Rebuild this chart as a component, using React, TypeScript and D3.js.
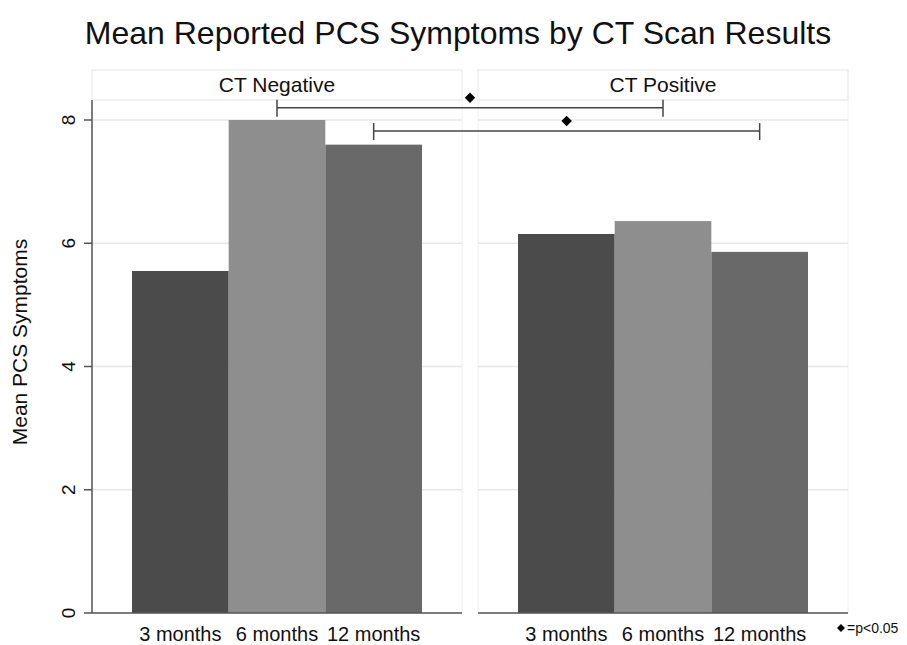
import React, { useEffect, useRef } from "react";
import * as d3 from "d3";

// chart values
const groups = ["CT Negative", "CT Positive"];
const months = ["3 months", "6 months", "12 months"];
const ctNegative = [5.55, 8.0, 7.6];
const ctPositive = [6.15, 6.36, 5.86];
const yTicks = [0, 2, 4, 6, 8];
const barColors = ["#4b4b4b", "#8e8e8e", "#696969"];
// significance brackets: month in CT Negative -> month in CT Positive, at a y level
const brackets = [
  { from: "6 months", to: "6 months", level: 8.2 },
  { from: "12 months", to: "12 months", level: 7.82 },
];

const W = 907;
const H = 645;

export default function App() {
  const ref = useRef<SVGSVGElement>(null);

  useEffect(() => {
    const svg = d3.select(ref.current);
    svg.selectAll("*").remove();

    const font = "'Liberation Sans', Arial, Helvetica, sans-serif";
    const plotTop = 100;
    const plotBottom = 613;
    const stripTop = 70;

    const y = d3.scaleLinear().domain([0, 8]).range([plotBottom, 120]);
    const panel = d3.scaleBand().domain(groups).range([92, 848]).paddingInner(16 / 386);
    const x = d3
      .scaleBand()
      .domain(months)
      .range([0, panel.bandwidth()])
      .paddingInner(0)
      .paddingOuter(0.414);

    const values: Record<string, number[]> = {
      "CT Negative": ctNegative,
      "CT Positive": ctPositive,
    };

    svg.append("rect").attr("width", W).attr("height", H).attr("fill", "#fff");

    // title
    svg
      .append("text")
      .attr("x", 458)
      .attr("y", 44)
      .attr("text-anchor", "middle")
      .style("font-family", font)
      .style("font-size", "32px")
      .attr("fill", "#111")
      .text("Mean Reported PCS Symptoms by CT Scan Results");

    groups.forEach((g) => {
      const x0 = panel(g)!;
      const pw = panel.bandwidth();
      const gEl = svg.append("g").attr("transform", `translate(${x0},0)`);

      // strip
      gEl
        .append("rect")
        .attr("x", 0)
        .attr("y", stripTop)
        .attr("width", pw)
        .attr("height", plotTop - stripTop)
        .attr("fill", "#fff")
        .attr("stroke", "#e6e6e6");
      gEl
        .append("text")
        .attr("x", pw / 2)
        .attr("y", 92)
        .attr("text-anchor", "middle")
        .style("font-family", font)
        .style("font-size", "21px")
        .attr("fill", "#111")
        .text(g);

      // plot region frame
      gEl
        .append("rect")
        .attr("x", 0)
        .attr("y", plotTop)
        .attr("width", pw)
        .attr("height", plotBottom - plotTop)
        .attr("fill", "none")
        .attr("stroke", "#f0f0f0");

      // gridlines
      gEl
        .selectAll("line.grid")
        .data(yTicks.filter((t) => t > 0))
        .enter()
        .append("line")
        .attr("x1", 0)
        .attr("x2", pw)
        .attr("y1", (d) => y(d))
        .attr("y2", (d) => y(d))
        .attr("stroke", "#e8e8e8")
        .attr("stroke-width", 1.5);

      // bars
      gEl
        .selectAll("rect.bar")
        .data(values[g])
        .enter()
        .append("rect")
        .attr("x", (d, i) => x(months[i])!)
        .attr("y", (d) => y(d))
        .attr("width", x.bandwidth())
        .attr("height", (d) => y(0) - y(d))
        .attr("fill", (d, i) => barColors[i]);

      // baseline
      gEl
        .append("line")
        .attr("x1", 0)
        .attr("x2", pw)
        .attr("y1", y(0))
        .attr("y2", y(0))
        .attr("stroke", "#555")
        .attr("stroke-width", 1.5);

      // month labels
      gEl
        .selectAll("text.month")
        .data(months)
        .enter()
        .append("text")
        .attr("x", (d) => x(d)! + x.bandwidth() / 2)
        .attr("y", 641)
        .attr("text-anchor", "middle")
        .style("font-family", font)
        .style("font-size", "20px")
        .attr("fill", "#111")
        .text((d) => d);
    });

    // y axis
    const axisX = panel(groups[0])!;
    svg
      .append("line")
      .attr("x1", axisX)
      .attr("x2", axisX)
      .attr("y1", plotTop)
      .attr("y2", plotBottom)
      .attr("stroke", "#555")
      .attr("stroke-width", 1.5);
    yTicks.forEach((t) => {
      svg
        .append("line")
        .attr("x1", axisX - 8)
        .attr("x2", axisX)
        .attr("y1", y(t))
        .attr("y2", y(t))
        .attr("stroke", "#555")
        .attr("stroke-width", 1.5);
      svg
        .append("text")
        .attr("transform", `translate(${axisX - 17},${y(t)}) rotate(-90)`)
        .attr("text-anchor", "middle")
        .style("font-family", font)
        .style("font-size", "19px")
        .attr("fill", "#111")
        .text(String(t));
    });
    svg
      .append("text")
      .attr("transform", `translate(27,342) rotate(-90)`)
      .attr("text-anchor", "middle")
      .style("font-family", font)
      .style("font-size", "21px")
      .attr("fill", "#111")
      .text("Mean PCS Symptoms");

    // significance brackets
    const cx = (g: string, m: string) => panel(g)! + x(m)! + x.bandwidth() / 2;
    brackets.forEach((b) => {
      const x1 = cx(groups[0], b.from);
      const x2 = cx(groups[1], b.to);
      const yy = y(b.level);
      const bg = svg.append("g").attr("stroke", "#444").attr("stroke-width", 1.5);
      bg.append("line").attr("x1", x1).attr("x2", x2).attr("y1", yy).attr("y2", yy);
      bg.append("line").attr("x1", x1).attr("x2", x1).attr("y1", yy - 8).attr("y2", yy + 9);
      bg.append("line").attr("x1", x2).attr("x2", x2).attr("y1", yy - 8).attr("y2", yy + 9);
      svg
        .append("path")
        .attr("d", d3.symbol(d3.symbolDiamond2, 70)())
        .attr("transform", `translate(${(x1 + x2) / 2},${yy - 10})`)
        .attr("fill", "#000");
    });

    // legend note
    svg
      .append("path")
      .attr("d", d3.symbol(d3.symbolDiamond2, 40)())
      .attr("transform", `translate(841,628)`)
      .attr("fill", "#000");
    svg
      .append("text")
      .attr("x", 847)
      .attr("y", 633)
      .style("font-family", font)
      .style("font-size", "14px")
      .attr("fill", "#111")
      .text("=p<0.05");
  }, []);

  return (
    <svg
      ref={ref}
      width={W}
      height={H}
      style={{ display: "block", position: "absolute", top: 0, left: 0 }}
    />
  );
}
